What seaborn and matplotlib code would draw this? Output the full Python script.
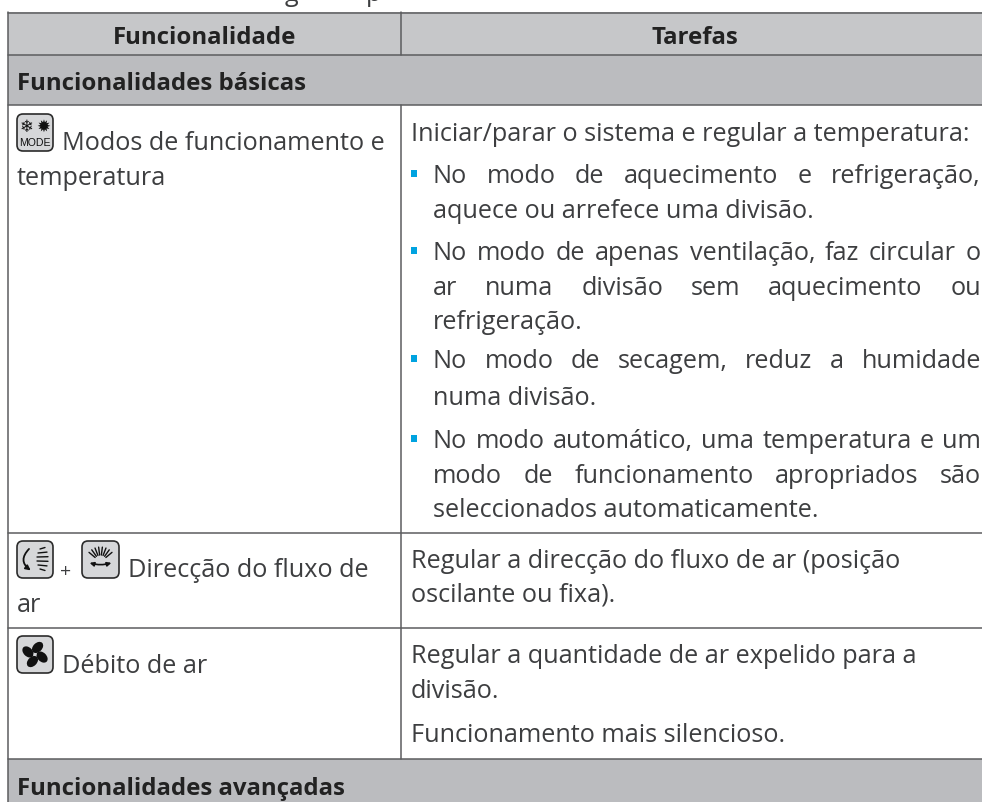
import numpy as np
import pandas as pd
import matplotlib
matplotlib.use('Agg')
import matplotlib.pyplot as plt
from matplotlib.patches import FancyBboxPatch, FancyArrowPatch, Ellipse, Rectangle
import seaborn as sns

col_titles = ['Funcionalidade', 'Tarefas']
sections = ['Funcionalidades básicas', 'Funcionalidades avançadas']

left_lines = ['Modos de funcionamento e', 'temperatura',
              'Direcção do fluxo de', 'ar', 'Débito de ar']

# text, bullet?, justified?
right_lines = [
    ('Iniciar/parar o sistema e regular a temperatura:', False, False),
    ('No modo de aquecimento e refrigeração,', True, True),
    ('aquece ou arrefece uma divisão.', False, False),
    ('No modo de apenas ventilação, faz circular o', True, True),
    ('ar numa divisão sem aquecimento ou', False, True),
    ('refrigeração.', False, False),
    ('No modo de secagem, reduz a humidade', True, True),
    ('numa divisão.', False, False),
    ('No modo automático, uma temperatura e um', True, True),
    ('modo de funcionamento apropriados são', False, True),
    ('seleccionados automaticamente.', False, False),
    ('Regular a direcção do fluxo de ar (posição', None, False),
    ('oscilante ou fixa).', None, False),
    ('Regular a quantidade de ar expelido para a', None, False),
    ('divisão.', None, False),
    ('Funcionamento mais silencioso.', None, False),
]

sns.set_theme(style='white')
plt.rcParams['font.family'] = ['Open Sans', 'DejaVu Sans']

fig = plt.figure(figsize=(9.82, 8.02), dpi=100)
ax = fig.add_axes([0, 0, 1, 1])
ax.set_xlim(0, 982)
ax.set_ylim(802, 0)

TXT = '#3d3e40'
FS = 18.2
BOLD = 17.3

# bands
ax.add_patch(Rectangle((8, 12), 974, 43, fc='#c6c7c9', ec='none', zorder=0))
ax.add_patch(Rectangle((8, 55), 974, 50, fc='#bbbcbf', ec='none', zorder=0))
ax.add_patch(Rectangle((8, 759), 974, 43, fc='#bbbcbf', ec='none', zorder=0))

# table rules
rules = pd.DataFrame({
    'rule': [0, 0, 1, 1, 2, 2, 3, 3, 4, 4, 5, 5, 6, 6, 7, 7, 8, 8],
    'x': [8, 982, 8, 982, 8, 982, 8, 982, 8, 982, 8, 982, 8, 8, 401.5, 401.5, 401.5, 401.5],
    'y': [12.5, 12.5, 55, 55, 105, 105, 533, 533, 628, 628, 759, 759, 12, 802, 12, 55, 105, 759],
})
sns.lineplot(data=rules, x='x', y='y', units='rule', estimator=None, color='#5c5d5f',
             lw=1.1, legend=False, ax=ax, sort=False, zorder=2)
ax.axis('off')


def put(x, y, s, **kw):
    kw.setdefault('fontsize', FS)
    kw.setdefault('color', TXT)
    return ax.text(x, y, s, va='baseline', **kw)


def justified(x0, x1, y, s):
    # spread the words so the line fills the column
    r = fig.canvas.get_renderer()
    words = s.split(' ')
    arts = [put(0, y, w) for w in words]
    widths = [a.get_window_extent(r).width for a in arts]
    gap = (x1 - x0 - sum(widths)) / (len(words) - 1)
    x = x0
    for a, w in zip(arts, widths):
        a.set_x(x)
        x += w + gap


# descenders of the cut off caption above the table
put(285, 1, 'g', clip_on=True)
put(366, 1, 'p', clip_on=True)

# headers
put(204.5, 44, col_titles[0], ha='center', fontweight='bold', fontsize=BOLD, color='#222222')
put(695, 44, col_titles[1], ha='center', fontweight='bold', fontsize=BOLD, color='#222222')
put(17, 90, sections[0], fontweight='bold', fontsize=BOLD, color='#222222')
put(17, 795, sections[1], fontweight='bold', fontsize=BOLD, color='#222222')

# left column
left_pos = [(62, 150), (17, 185), (128, 577), (17, 612), (62, 673)]
for (x, y), s in zip(left_pos, left_lines):
    put(x, y, s)
put(60, 577, '+', fontsize=14)

# right column
right_y = [141, 183, 218, 260, 295, 329, 368, 405, 448, 483, 517, 568, 602, 663, 698, 742]
for (s, bullet, just), y in zip(right_lines, right_y):
    x0 = 411 if bullet is None or y == 141 else 433
    if bullet:
        ax.add_patch(Rectangle((411, y - 13), 6.5, 6.5, fc='#00a3e0', ec='none'))
    if just:
        justified(x0, 981, y, s)
    else:
        put(x0, y, s)


def icon(x0, y0, x1, y1):
    ax.add_patch(FancyBboxPatch((x0 + 4, y0 + 4), x1 - x0 - 8, y1 - y0 - 8,
                                boxstyle='round,pad=4,rounding_size=6',
                                fc='#d6d7d9', ec='#2b2b2b', lw=1.2, zorder=3))


# mode button
icon(17, 114, 53, 151)
ax.text(26, 127, '\u2744', family='DejaVu Sans', fontsize=12, color='#111111',
        ha='center', va='center', zorder=4)
ax.text(43, 127, '\u2739', family='DejaVu Sans', fontsize=12, color='#111111',
        ha='center', va='center', zorder=4)
ax.text(35, 146, 'MODE', family='Liberation Sans', fontsize=7.6, color='#111111',
        ha='center', va='baseline', zorder=4)

# swing button
icon(17, 541, 53, 578)
ax.add_patch(FancyArrowPatch((31, 547), (33, 572), connectionstyle='arc3,rad=0.65',
                             arrowstyle='-|>', mutation_scale=7, lw=1.3, color='#111111', zorder=4))
for yy, xa, xb in [(549, 40, 45), (553, 38, 47), (557, 37, 48), (561, 37, 48), (565, 38, 47), (569, 40, 45)]:
    ax.plot([xa, xb], [yy, yy + (yy - 559) * 0.15], color='#111111', lw=1, zorder=4)

# horizontal flow button
icon(82, 541, 119, 578)
for a in np.linspace(-50, 50, 8):
    t = np.deg2rad(a)
    ax.plot([100.5 + 7 * np.sin(t), 100.5 + 15 * np.sin(t)],
            [562 - 7 * np.cos(t), 562 - 15 * np.cos(t)], color='#111111', lw=1, zorder=4)
ax.add_patch(FancyArrowPatch((87, 562), (114, 562), connectionstyle='arc3,rad=0.18',
                             arrowstyle='<|-|>', mutation_scale=6, lw=1.2, color='#111111', zorder=4))

# fan button
icon(17, 636, 53, 673)
for a in [20, 110, 200, 290]:
    t = np.deg2rad(a)
    ax.add_patch(Ellipse((35 + 7.5 * np.cos(t), 654.5 + 7.5 * np.sin(t)), 13, 9, angle=a + 25,
                         fc='#111111', ec='none', zorder=4))
ax.add_patch(Ellipse((35, 654.5), 3, 3, fc='#d6d7d9', ec='none', zorder=5))

fig.savefig('out.png', dpi=100)
